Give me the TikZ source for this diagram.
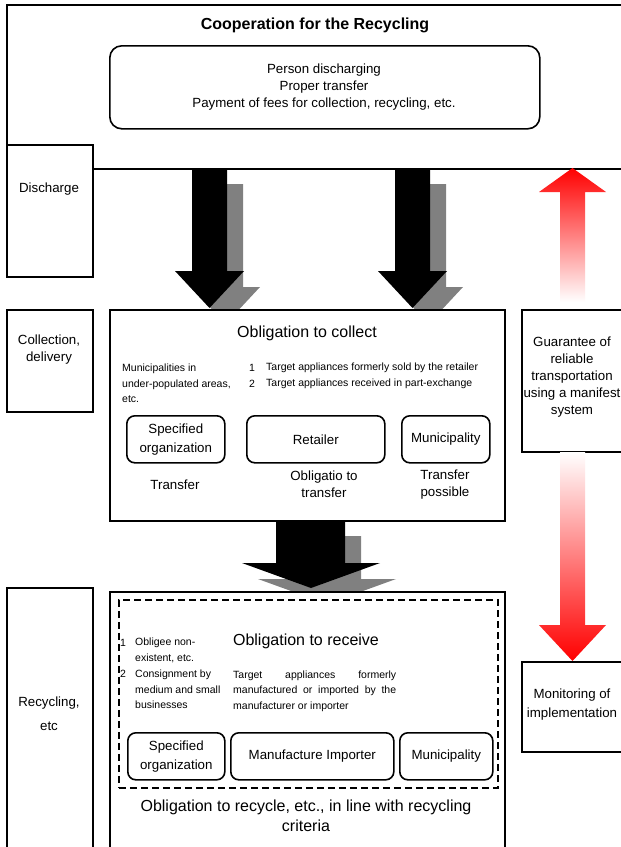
\documentclass[tikz,border=0pt]{standalone}
\usepackage{fontspec}
\setmainfont{Liberation Sans}
\begin{document}
\begin{tikzpicture}[x=1pt,y=-1pt,
  frame/.style={draw=black,line width=1.6pt,fill=white,inner sep=0,anchor=north west,align=center,font=\fontsize{13.3}{19}\selectfont},
  rbox/.style={frame,rounded corners=8pt},
  lbl/.style={font=\fontsize{13.3}{17}\selectfont,align=center,inner sep=0},
  small/.style={font=\fontsize{10.5}{15.5}\selectfont,align=left,inner sep=0,anchor=west},
  headtxt/.style={font=\fontsize{16}{20}\selectfont,align=center,inner sep=0},
  shadowarrow/.style={fill=black!50},
  blackarrow/.style={fill=black},
  dashbox/.style={draw=black,line width=1.6pt,dash pattern=on 7pt off 4pt,inner sep=0,anchor=north west}]
\useasboundingbox (0,0) rectangle (621,847);
\clip (0,0) rectangle (621,847);
\fill[white] (0,0) rectangle (621,847);

% top cooperation frame
\node[frame,minimum width=660,minimum height=164] (coop) at (6,4) {};
\node[font=\bfseries\fontsize{16}{20}\selectfont,inner sep=0] (title) at (315,25) {Cooperation for the Recycling};
\node[rbox,rounded corners=12pt,minimum width=430,minimum height=83] (duties) at (109,45) {};
\node[lbl] (dutiestxt) at (324,87) {Person discharging\\Proper transfer\\Payment of fees for collection, recycling, etc.};
\node[frame,minimum width=86,minimum height=132] (discharge) at (6,144) {};
\node[lbl] (dischargetxt) at (49,189) {Discharge};

% arrows discharge -> collect
\fill[shadowarrow,shift={(16,16)}] (192,168) -- (227,168) -- (227,271) -- (244,271) -- (209.5,308) -- (175,271) -- (192,271) -- cycle;
\fill[shadowarrow,shift={(16,16)}] (395,168) -- (430,168) -- (430,271) -- (447,271) -- (412.5,308) -- (378,271) -- (395,271) -- cycle;
\fill[blackarrow] (192,168) -- (227,168) -- (227,271) -- (244,271) -- (209.5,308) -- (175,271) -- (192,271) -- cycle;
\fill[blackarrow] (395,168) -- (430,168) -- (430,271) -- (447,271) -- (412.5,308) -- (378,271) -- (395,271) -- cycle;

% red up arrow
\shade[top color=red,bottom color=white] (572.5,168) -- (606,192) -- (585,192) -- (585,302) -- (560,302) -- (560,192) -- (539,192) -- cycle;

% collection row
\node[frame,minimum width=86,minimum height=102] (collection) at (6,309) {};
\node[lbl] (collectiontxt) at (49,350) {Collection,\\delivery};
\node[frame,minimum width=395,minimum height=211] (collect) at (109,309) {};
\node[headtxt] (collecttitle) at (307,333) {Obligation to collect};
\node[small] (munitxt) at (122,383.5) {Municipalities in\\under-populated areas,\\etc.};
\node[small] (num1) at (249,368) {1};
\node[small] (item1) at (266,368) {Target appliances formerly sold by the retailer};
\node[small] (num2) at (249,383.5) {2};
\node[small] (item2) at (266,383.5) {Target appliances received in part-exchange};
\node[rbox,minimum width=98,minimum height=47] (sorg1) at (126,415) {Specified\\organization};
\node[rbox,minimum width=138,minimum height=47] (retailer) at (246,415) {Retailer};
\node[rbox,minimum width=88,minimum height=47] (muni1) at (401,415) {Municipality};
\node[lbl] (transfer1) at (175,485) {Transfer};
\node[lbl] (transfer2) at (324,484.5) {Obligatio to\\transfer};
\node[lbl] (transfer3) at (445,484.5) {Transfer\\possible};
\node[frame,minimum width=130,minimum height=142] (guarantee) at (521,309) {};
\node[lbl,font=\fontsize{13.3}{16.8}\selectfont] (guaranteetxt) at (572,377) {Guarantee of\\reliable\\transportation\\using a manifest\\system};

% red down arrow
\shade[top color=white,bottom color=red] (560,452) -- (585,452) -- (585,625) -- (606,625) -- (572.5,661) -- (539,625) -- (560,625) -- cycle;

% arrow collect -> recycle
\fill[shadowarrow,shift={(16,16)}] (276,520) -- (345,520) -- (345,563) -- (380,563) -- (311,588) -- (242,563) -- (276,563) -- cycle;
\fill[blackarrow] (276,520) -- (345,520) -- (345,563) -- (380,563) -- (311,588) -- (242,563) -- (276,563) -- cycle;

% recycling row
\node[frame,minimum width=86,minimum height=280] (recycling) at (6,587) {};
\node[lbl,font=\fontsize{13.3}{24}\selectfont] (recyclingtxt) at (49,714) {Recycling,\\etc};
\node[frame,minimum width=395,minimum height=280] (recycle) at (109,591) {};
\node[dashbox,minimum width=379,minimum height=188] (receivebox) at (118,599) {};
\node[headtxt] (receivetitle) at (306,641) {Obligation to receive};
\node[small] (rnum1) at (120,643) {1};
\node[small] (ritem1) at (135,650.5) {Obligee non-\\existent, etc.};
\node[small] (rnum2) at (120,674) {2};
\node[small] (ritem2) at (135,689.5) {Consignment by\\medium and small\\businesses};
\node[small] (targettxt) at (233,691) {\makebox[163pt][s]{Target appliances formerly}\\\makebox[163pt][s]{manufactured or imported by the}\\manufacturer or importer};
\node[rbox,minimum width=97,minimum height=47] (sorg2) at (127,732) {Specified\\organization};
\node[rbox,minimum width=163,minimum height=47] (manuf) at (230,732) {Manufacture Importer};
\node[rbox,minimum width=93,minimum height=47] (muni2) at (399,732) {Municipality};
\node[headtxt] (recycletxt) at (306,816) {Obligation to recycle, etc., in line with recycling\\criteria};
\node[frame,minimum width=130,minimum height=90] (monitoring) at (521,661) {};
\node[lbl,font=\fontsize{13.3}{19}\selectfont] (monitoringtxt) at (572,704.5) {Monitoring of\\implementation};
\end{tikzpicture}
\end{document}
